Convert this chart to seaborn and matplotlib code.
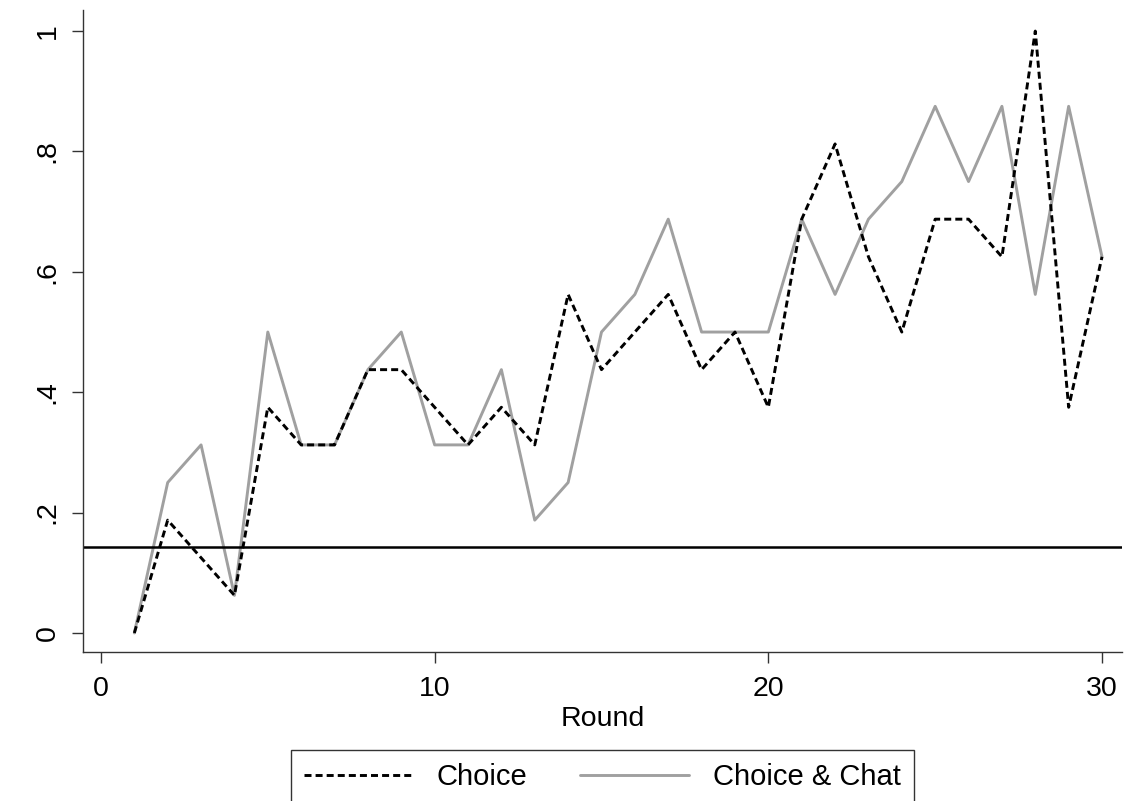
import numpy as np
import pandas as pd
import seaborn as sns
import matplotlib.pyplot as plt

rounds = list(range(1, 31))
choice = [0, 0.1875, 0.125, 0.0625, 0.375, 0.3125, 0.3125, 0.4375, 0.4375, 0.375,
          0.3125, 0.375, 0.3125, 0.5625, 0.4375, 0.5, 0.5625, 0.4375, 0.5, 0.375,
          0.6875, 0.8125, 0.625, 0.5, 0.6875, 0.6875, 0.625, 1.0, 0.375, 0.625]
choice_chat = [0, 0.25, 0.3125, 0.0625, 0.5, 0.3125, 0.3125, 0.4375, 0.5, 0.3125,
               0.3125, 0.4375, 0.1875, 0.25, 0.5, 0.5625, 0.6875, 0.5, 0.5, 0.5,
               0.6875, 0.5625, 0.6875, 0.75, 0.875, 0.75, 0.875, 0.5625, 0.875, 0.625]
benchmark = 1 / 7
yticks = [0, 0.2, 0.4, 0.6, 0.8, 1.0]
ytick_labels = ["0", ".2", ".4", ".6", ".8", "1"]
xticks = [0, 10, 20, 30]

df = pd.DataFrame({"Round": rounds, "Choice": choice, "Choice & Chat": choice_chat})

sns.set_style("ticks")
plt.rcParams["font.family"] = ["Liberation Sans", "DejaVu Sans"]
plt.rcParams["text.color"] = "black"

fig = plt.figure(figsize=(11.27, 8.01), dpi=100)
ax = fig.add_axes([0.0736, 0.186, 0.922, 0.8015])

sns.lineplot(data=df, x="Round", y="Choice & Chat", ax=ax, color="#a0a0a0",
             linewidth=2.1, label="Choice & Chat")
sns.lineplot(data=df, x="Round", y="Choice", ax=ax, color="black",
             linewidth=2.1, label="Choice")
ax.lines[-1].set_dashes([2.4, 1.4])
ax.axhline(benchmark, color="black", linewidth=1.8)

ax.set_xlim(-0.54, 30.6)
ax.set_ylim(-0.0316, 1.035)
ax.set_xticks(xticks)
ax.set_yticks(yticks)
ax.set_yticklabels(ytick_labels, rotation=90, va="center")
ax.tick_params(labelsize=20.5, length=8, width=1, color="#333333",
               labelcolor="black")
ax.tick_params(axis="x", pad=9)
ax.tick_params(axis="y", pad=8)
ax.set_xlabel("Round", fontsize=20.5, labelpad=3, color="black")
ax.set_ylabel("")
sns.despine(ax=ax)
for s in ["left", "bottom"]:
    ax.spines[s].set_color("#333333")
    ax.spines[s].set_linewidth(1)

# legend sits below the axes and runs off the bottom edge, as in the original
ax.get_legend().remove()
handles, labels = ax.get_legend_handles_labels()
order = [1, 0]
leg = fig.legend([handles[i] for i in order], [labels[i] for i in order],
                 loc="upper left", bbox_to_anchor=(291 / 1127, 1 - 750 / 801),
                 borderaxespad=0, ncol=2, frameon=True, fancybox=False,
                 fontsize=21, handlelength=3.75, handletextpad=0.8,
                 columnspacing=1.8, borderpad=0.45, edgecolor="black")
leg.get_frame().set_linewidth(1)

fig.savefig("out.png", dpi=100)
